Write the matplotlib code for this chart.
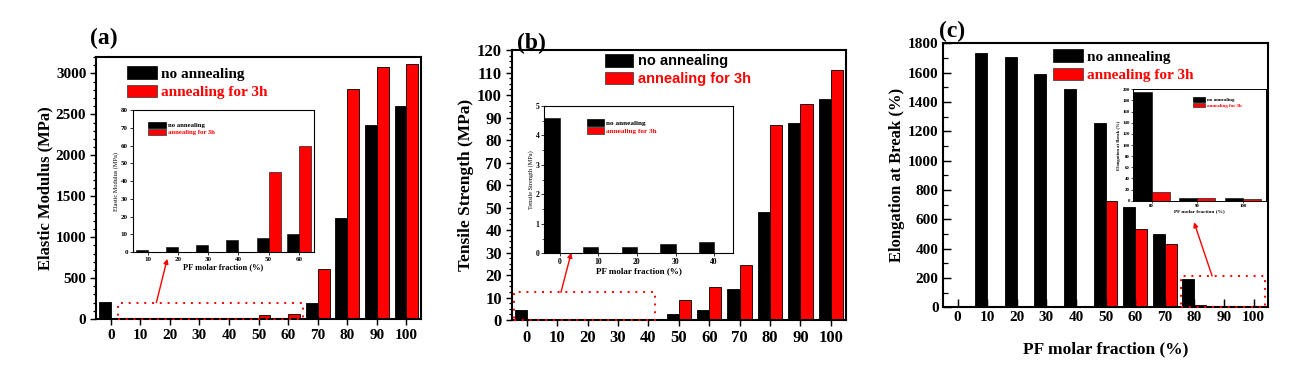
import numpy as np
import matplotlib
matplotlib.use('Agg')
import matplotlib.pyplot as plt
from matplotlib.patches import Patch, Rectangle
from matplotlib.ticker import MultipleLocator

plt.rcParams['font.family'] = ['Liberation Serif', 'DejaVu Serif']
plt.rcParams['font.weight'] = 'bold'
plt.rcParams['axes.labelweight'] = 'bold'

pf = [0, 10, 20, 30, 40, 50, 60, 70, 80, 90, 100]

# (a) elastic modulus, MPa
mod_no = [203, 1, 3, 4, 7, 8, 10, 190, 1230, 2370, 2600]
mod_ann = [0, 0, 0, 0, 0, 45, 60, 605, 2815, 3075, 3120]
ins_mod_pf = [10, 20, 30, 40, 50, 60]
ins_mod_no = [1, 3, 4, 7, 8, 10]
ins_mod_ann = [0, 0, 0, 0, 45, 60]

# (b) tensile strength, MPa
ts_no = [4.6, 0.2, 0.2, 0.3, 0.4, 2.7, 4.3, 13.7, 48.1, 87.4, 98.4]
ts_ann = [0, 0, 0, 0, 0, 8.9, 14.7, 24.3, 86.8, 95.9, 110.9]
ins_ts_pf = [0, 10, 20, 30, 40]
ins_ts_no = [4.6, 0.2, 0.2, 0.3, 0.4]
ins_ts_ann = [0, 0, 0, 0, 0]

# (c) elongation at break, %
el_no = [0, 1734, 1704, 1593, 1488, 1255, 684, 497, 196, 5, 5]
el_ann = [0, 0, 0, 0, 0, 725, 536, 431, 15, 4, 3]
ins_el_pf = [80, 90, 100]
ins_el_no = [196, 5, 5]
ins_el_ann = [15, 4, 3]

BLACK = '#000000'
RED = '#ff0000'


def bars(ax, cats, no, ann, ec_lw=0.6):
    x = np.arange(len(cats))
    ax.bar(x - 0.2, no, width=0.4, color=BLACK, edgecolor='black', linewidth=ec_lw)
    ax.bar(x + 0.2, ann, width=0.4, color=RED, edgecolor='black', linewidth=ec_lw)
    ax.set_xticks(x)
    ax.set_xticklabels([str(c) for c in cats])
    return x


def style(ax, fs, lw=1.5, tl=4, tdir='in'):
    for s in ax.spines.values():
        s.set_linewidth(lw)
    ax.tick_params(direction=tdir, width=lw * 0.7, length=tl, labelsize=fs, pad=3)
    ax.tick_params(which='minor', direction=tdir, width=lw * 0.6, length=tl * 0.6)
    ax.tick_params(axis='x', which='minor', bottom=False)


def legend(ax, anchor, fs, family, hl, hh, ls):
    h = [Patch(facecolor=BLACK, edgecolor='black', linewidth=0.5),
         Patch(facecolor=RED, edgecolor='#333333', linewidth=0.5)]
    lg = ax.legend(h, ['no annealing', 'annealing for 3h'], loc='upper left',
                   bbox_to_anchor=anchor, frameon=False, borderpad=0,
                   borderaxespad=0, handlelength=hl, handleheight=hh,
                   labelspacing=ls, handletextpad=0.3,
                   prop={'family': family, 'weight': 'bold', 'size': fs})
    lg.get_texts()[1].set_color(RED)


def zoom_box(ax, x0, x1, y1, start, end):
    ax.add_patch(Rectangle((x0, 0), x1 - x0, y1, fill=False, edgecolor=RED,
                           linestyle=(0, (1, 3)), linewidth=1.4, clip_on=False, zorder=5))
    ax.annotate('', xy=end, xytext=start,
                arrowprops=dict(arrowstyle='-|>', color=RED, lw=1.0,
                                mutation_scale=7, shrinkA=0, shrinkB=0))


fig = plt.figure(figsize=(13.07, 3.7), dpi=100)

serif = ['Liberation Serif', 'DejaVu Serif']
sans = ['Liberation Sans', 'DejaVu Sans']

# ---------------- (a)
ax = fig.add_axes([0.0735, 0.1378, 0.2487, 0.708])
bars(ax, pf, mod_no, mod_ann)
ax.set_xlim(-0.5, 10.5)
ax.set_ylim(0, 3200)
ax.yaxis.set_major_locator(MultipleLocator(500))
ax.yaxis.set_minor_locator(MultipleLocator(100))
style(ax, 11, tl=4, tdir='out')
ax.set_ylabel('Elastic Modulus (MPa)', fontsize=12, labelpad=2)
ax.text(-0.02, 1.03, '(a)', transform=ax.transAxes, fontsize=17, ha='left', va='bottom')
legend(ax, (0.095, 0.965), 11, serif, 1.95, 0.9, 0.25)
zoom_box(ax, 0.24, 6.49, 200, (1.54, 200), (1.91, 736))

ia = fig.add_axes([0.1015, 0.3189, 0.1387, 0.3838])
bars(ia, ins_mod_pf, ins_mod_no, ins_mod_ann, 0.4)
ia.set_xlim(-0.5, 5.5)
ia.set_ylim(0, 80)
ia.yaxis.set_major_locator(MultipleLocator(10))
style(ia, 5, lw=0.8, tl=2, tdir='out')
ia.tick_params(pad=1.5)
ia.set_ylabel('Elastic Modulus (MPa)', fontsize=4.5, labelpad=1, fontweight='normal')
ia.set_xlabel('PF molar fraction (%)', fontsize=6, labelpad=1)
legend(ia, (0.086, 0.915), 4.8, serif, 2.6, 1.0, 0.1)

# ---------------- (b)
bx = fig.add_axes([0.3915, 0.1351, 0.2558, 0.7297])
bars(bx, pf, ts_no, ts_ann)
bx.set_xlim(-0.5, 10.5)
bx.set_ylim(0, 120)
bx.yaxis.set_major_locator(MultipleLocator(10))
bx.yaxis.set_minor_locator(MultipleLocator(2.5))
style(bx, 12, tl=4, tdir='out')
bx.set_ylabel('Tensile Strength (MPa)', fontsize=12.5, labelpad=2)
bx.text(0.015, 0.985, '(b)', transform=bx.transAxes, fontsize=17, ha='left', va='bottom')
legend(bx, (0.279, 0.985), 10.5, sans, 1.95, 0.95, 0.22)
zoom_box(bx, -0.42, 4.22, 12.3, (1.12, 12.3), (1.46, 29.9))

ib = fig.add_axes([0.4165, 0.3154, 0.1446, 0.3981])
bars(ib, ins_ts_pf, ins_ts_no, ins_ts_ann, 0.4)
ib.set_xlim(-0.4, 4.5)
ib.set_ylim(0, 5)
ib.yaxis.set_major_locator(MultipleLocator(1))
ib.yaxis.set_minor_locator(MultipleLocator(0.5))
style(ib, 5.5, lw=0.8, tl=2, tdir='out')
ib.tick_params(pad=1.5)
ib.set_ylabel('Tensile Strength (MPa)', fontsize=4.5, labelpad=1, fontweight='normal')
ib.set_xlabel('PF molar fraction (%)', fontsize=6.5, labelpad=1)
legend(ib, (0.224, 0.91), 5.2, serif, 2.4, 1.0, 0.15)

# ---------------- (c)
cx = fig.add_axes([0.7213, 0.1695, 0.2491, 0.7135])
bars(cx, pf, el_no, el_ann)
cx.set_xlim(-0.5, 10.5)
cx.set_ylim(0, 1800)
cx.yaxis.set_major_locator(MultipleLocator(200))
cx.yaxis.set_minor_locator(MultipleLocator(100))
style(cx, 11, tl=6, tdir='in')
cx.set_ylabel('Elongation at Break (%)', fontsize=12, labelpad=2)
cx.set_xlabel('PF molar fraction (%)', fontsize=12.5, labelpad=12)
cx.text(-0.01, 1.005, '(c)', transform=cx.transAxes, fontsize=17, ha='left', va='bottom')
legend(cx, (0.338, 0.978), 11, serif, 1.95, 0.9, 0.25)
zoom_box(cx, 7.54, 10.39, 214, (8.6, 214), (7.99, 580))

ic = fig.add_axes([0.8671, 0.4576, 0.1013, 0.301])
bars(ic, ins_el_pf, ins_el_no, ins_el_ann, 0.4)
ic.set_xlim(-0.4, 2.5)
ic.set_ylim(0, 200)
ic.yaxis.set_major_locator(MultipleLocator(20))
style(ic, 3.5, lw=0.7, tl=1.5, tdir='out')
ic.tick_params(pad=1)
ic.set_ylabel('Elongation at Break (%)', fontsize=3.3, labelpad=1)
ic.set_xlabel('PF molar fraction (%)', fontsize=3.8, labelpad=1)
legend(ic, (0.451, 0.93), 3.6, serif, 2.4, 1.0, 0.15)

fig.savefig('out.png', dpi=100)
